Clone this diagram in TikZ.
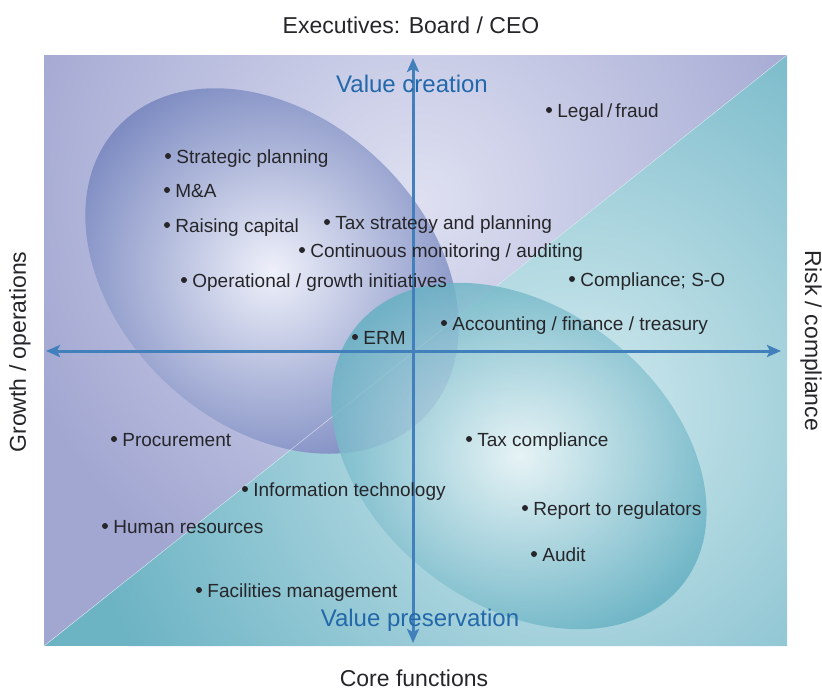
\documentclass[tikz,border=0pt]{standalone}
\usepackage{fontspec}
\setmainfont{Liberation Sans}
\usetikzlibrary{positioning,arrows.meta}

\definecolor{lavdark}{RGB}{162,167,210}
\definecolor{lavlight}{RGB}{222,224,241}
\definecolor{tealdark}{RGB}{108,179,196}
\definecolor{teallight}{RGB}{210,234,239}
\definecolor{purpedge}{RGB}{126,140,194}
\definecolor{purpcore}{RGB}{238,240,250}
\definecolor{tealedge}{RGB}{100,176,194}
\definecolor{tealcore}{RGB}{238,247,249}
\definecolor{axisblue}{RGB}{66,128,188}
\definecolor{valueblue}{RGB}{34,104,170}
\definecolor{itemgray}{RGB}{38,38,42}

\tikzset{
  dot/.style={circle, fill=itemgray, inner sep=0pt, minimum size=6pt},
  item/.style={font=\fontsize{19}{21}\selectfont, text=itemgray, inner sep=0pt,
    text height=14pt, text depth=0pt},
  sidelabel/.style={font=\fontsize{23}{26}\selectfont, text=itemgray, inner sep=0pt},
  valuelabel/.style={font=\fontsize{24}{27}\selectfont, text=valueblue, inner sep=0pt},
  axis/.style={axisblue, line width=3pt,
    {Stealth[length=14pt,width=12pt,inset=3pt]}-{Stealth[length=14pt,width=12pt,inset=3pt]}},
}

\begin{document}
\begin{tikzpicture}[x=1pt,y=-1pt]
  \useasboundingbox (0,0) rectangle (822,691);

  % background: two triangles
  \begin{scope}
    \clip (44,55) -- (787,55) -- (44,646) -- cycle;
    \fill[lavdark] (44,55) rectangle (787,646);
    \shade[inner color=lavlight, outer color=lavdark] (420,200) circle (430pt);
  \end{scope}
  \begin{scope}
    \clip (787,55) -- (787,646) -- (44,646) -- cycle;
    \fill[tealdark] (44,55) rectangle (787,646);
    \shade[inner color=teallight, outer color=tealdark] (570,410) circle (500pt);
  \end{scope}

  % the two ellipses
  \shade[inner color=purpcore, outer color=purpedge, shift={(272,271)}, rotate=-43]
    (0,0) ellipse [x radius=211pt, y radius=154pt];
  \draw[white, line width=0.4pt, opacity=0.7] (44,646) -- (787,55);
  \shade[inner color=tealcore, outer color=tealedge, opacity=0.82, shift={(519,456)}, rotate=-38]
    (0,0) ellipse [x radius=208pt, y radius=148pt];

  % axes
  \coordinate (west) at (46,351);
  \coordinate (east) at (781,351);
  \coordinate (north) at (413,58);
  \coordinate (south) at (413,643);
  \draw[axis] (west) -- (east);
  \draw[axis] (north) -- (south);

  \node[valuelabel] (create) at (412,84) {Value creation};
  \node[valuelabel] (preserve) at (420,620) {Value preservation};

  \node[sidelabel] (exec) at (411,25) {Executives: Board / CEO};
  \node[sidelabel, text depth=0pt] (core) at (414,678) {Core functions};
  \node[sidelabel, rotate=90] (growth) at (20,352) {Growth / operations};
  \node[sidelabel, rotate=-90] (risk) at (811,341) {Risk / compliance};

  % items
  \node[dot] (legal) at (549,110) {};
  \node[item, right=5pt of legal] (legaltxt) {Legal\,/\,fraud};
  \node[dot] (strat) at (168,156) {};
  \node[item, right=5pt of strat] (strattxt) {Strategic planning};
  \node[dot] (ma) at (167,190) {};
  \node[item, right=5pt of ma] (matxt) {M\&A};
  \node[dot] (capital) at (167,225) {};
  \node[item, right=5pt of capital] (capitaltxt) {Raising capital};
  \node[dot] (tax) at (327,222) {};
  \node[item, right=5pt of tax] (taxtxt) {Tax strategy and planning};
  \node[dot] (monitor) at (302,250) {};
  \node[item, right=5pt of monitor] (monitortxt) {Continuous monitoring / auditing};
  \node[dot] (ops) at (184,280) {};
  \node[item, right=5pt of ops] (opstxt) {Operational / growth initiatives};
  \node[dot] (sox) at (572,279) {};
  \node[item, right=5pt of sox] (soxtxt) {Compliance; S-O};
  \node[dot] (acct) at (444,323) {};
  \node[item, right=5pt of acct] (accttxt) {Accounting / finance / treasury};
  \node[dot] (erm) at (355,337) {};
  \node[item, right=5pt of erm] (ermtxt) {ERM};
  \node[dot] (proc) at (114,439) {};
  \node[item, right=5pt of proc] (proctxt) {Procurement};
  \node[dot] (taxcomp) at (469,439) {};
  \node[item, right=5pt of taxcomp] (taxcomptxt) {Tax compliance};
  \node[dot] (it) at (245,489) {};
  \node[item, right=5pt of it] (ittxt) {Information technology};
  \node[dot] (report) at (525,508) {};
  \node[item, right=5pt of report] (reporttxt) {Report to regulators};
  \node[dot] (hr) at (105,526) {};
  \node[item, right=5pt of hr] (hrtxt) {Human resources};
  \node[dot] (audit) at (534,554) {};
  \node[item, right=5pt of audit] (audittxt) {Audit};
  \node[dot] (fac) at (199,590) {};
  \node[item, right=5pt of fac] (factxt) {Facilities management};
\end{tikzpicture}
\end{document}
